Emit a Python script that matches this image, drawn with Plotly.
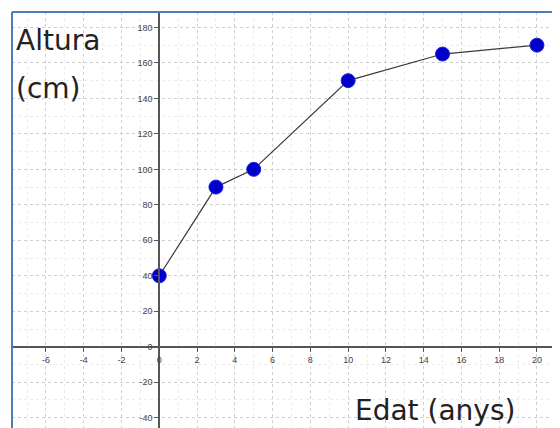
import plotly.graph_objects as go

edat = [0, 3, 5, 10, 15, 20]
altura = [40, 90, 100, 150, 165, 170]

x_ticks = list(range(-8, 21, 2))
y_ticks = list(range(-40, 181, 20))

# page has 8px body margin; figure sized so plot area spans page x 12..560, y 12..428
W, H = 552, 420
ml, mt = 4, 4
PW, PH = W - ml, H - mt
xr = [-7.8, 21.22]
yr = [-45.8, 188.7]

xpos = (0 - yr[0]) / (yr[1] - yr[0])
ypos = (0 - xr[0]) / (xr[1] - xr[0])


def px(page_x):
    return (page_x - 12) / PW


def py(page_y):
    return 1 - (page_y - 12) / PH


fig = go.Figure()
fig.add_trace(go.Scatter(
    x=edat, y=altura, mode="lines+markers",
    line=dict(color="#3a3a3a", width=1.2),
    marker=dict(color="#0000c8", size=14, line=dict(color="#2020e0", width=1)),
    showlegend=False, cliponaxis=False,
))

fig.update_layout(
    width=W, height=H,
    margin=dict(l=ml, r=0, t=mt, b=0),
    paper_bgcolor="white", plot_bgcolor="white",
    font=dict(family="Liberation Sans, Arial, sans-serif"),
    xaxis=dict(
        range=xr, anchor="free", position=xpos,
        tickvals=x_ticks, ticktext=[str(v) for v in x_ticks],
        showline=True, linecolor="#555555", linewidth=2,
        ticks="outside", ticklen=4, tickcolor="#555555",
        tickfont=dict(size=9, color="#444444"),
        showgrid=True, gridcolor="#cfcfcf", griddash="dot", gridwidth=1,
        minor=dict(dtick=1, showgrid=True, gridcolor="#ececec", griddash="dot"),
        zeroline=False,
    ),
    yaxis=dict(
        range=yr, anchor="free", position=ypos,
        tickvals=y_ticks, ticktext=[str(v) for v in y_ticks],
        showline=True, linecolor="#555555", linewidth=2,
        ticks="outside", ticklen=4, tickcolor="#555555",
        tickfont=dict(size=9, color="#444444"),
        showgrid=True, gridcolor="#cfcfcf", griddash="dot", gridwidth=1,
        minor=dict(dtick=10, showgrid=True, gridcolor="#ececec", griddash="dot"),
        zeroline=False,
    ),
    shapes=[
        dict(type="line", xref="paper", yref="paper", x0=0, x1=0, y0=-0.05, y1=1,
             line=dict(color="#4a7ebb", width=2)),
        dict(type="line", xref="paper", yref="paper", x0=0, x1=1.05, y0=1, y1=1,
             line=dict(color="#4a7ebb", width=2)),
    ],
    annotations=[
        dict(text="Altura", xref="paper", yref="paper",
             x=px(14), y=py(22),
             xanchor="left", yanchor="top", showarrow=False,
             font=dict(size=28, color="#222222", family="DejaVu Sans")),
        dict(text="(cm)", xref="paper", yref="paper",
             x=px(14), y=py(70),
             xanchor="left", yanchor="top", showarrow=False,
             font=dict(size=28, color="#222222", family="DejaVu Sans")),
        dict(text="Edat (anys)", xref="paper", yref="paper",
             x=px(353), y=py(429),
             xanchor="left", yanchor="bottom", showarrow=False,
             font=dict(size=28, color="#222222", family="DejaVu Sans")),
    ],
)

fig.write_html("out.html")
